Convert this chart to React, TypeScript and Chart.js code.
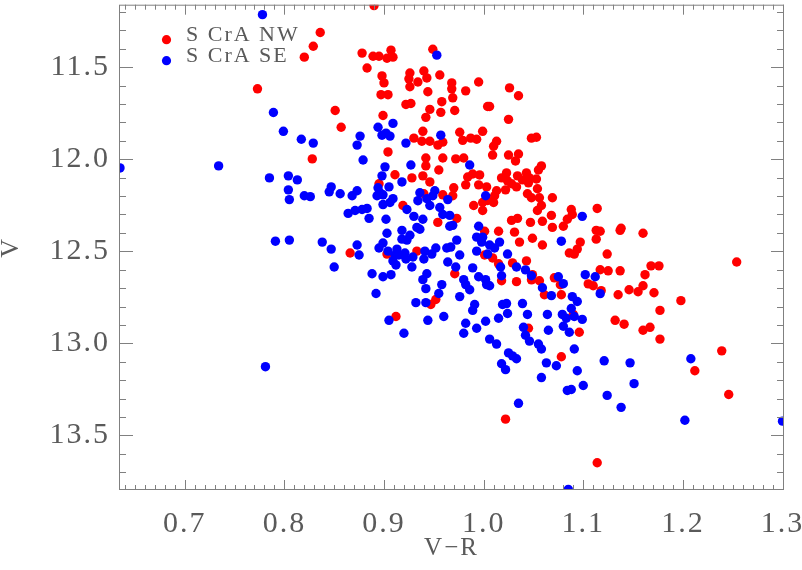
import React, { useEffect, useRef } from 'react';
import { Chart, registerables } from 'chart.js';

Chart.register(...registerables);

// Axis extents and ticks
const xRange = [0.634, 1.3015];
const yRange = [11.16, 13.797];
const xTickValues = [0.7, 0.8, 0.9, 1.0, 1.1, 1.2, 1.3];
const yTickValues = [11.5, 12.0, 12.5, 13.0, 13.5];
const xTitle = 'V\u2212R';
const yTitle = 'V';

const seriesLabels = ['S CrA NW', 'S CrA SE'];
const seriesColors = ['#ff0000', '#0000ff'];

// S CrA NW (red): V-R and V
const nwVR = [
  0.890, 0.836, 0.829, 0.820, 0.773, 0.878, 0.889, 0.895, 0.903, 0.907,
  0.909, 0.883, 0.898, 0.900, 0.897, 0.904, 0.851, 0.857, 0.899, 0.904,
  0.828, 0.911, 0.895, 0.866, 0.903, 0.949, 0.926, 0.925, 0.934, 0.940,
  0.943, 0.956, 0.968, 0.968, 0.995, 0.982, 0.926, 0.944, 0.969, 0.922,
  0.927, 0.958, 0.946, 0.957, 0.971, 1.004, 0.942, 0.939, 0.976, 0.979,
  0.999, 0.930, 0.938, 0.946, 0.954, 0.959, 0.987, 0.993, 0.942, 0.942,
  0.959, 0.972, 0.980, 0.955, 0.928, 0.939, 0.946, 0.984, 0.989, 0.996,
  0.982, 0.995, 1.003, 0.970, 0.969, 0.959, 0.990, 0.999, 0.999, 1.004,
  0.919, 0.954, 0.940, 1.026, 1.035, 1.006, 1.025, 1.048, 1.053, 1.013,
  1.010, 1.009, 1.025, 1.035, 1.032, 1.058, 1.055, 1.023, 1.018, 1.024,
  1.022, 1.028, 1.033, 1.034, 1.043, 1.039, 1.046, 1.045, 1.053, 1.013,
  1.011, 1.010, 1.044, 1.054, 1.048, 1.056, 1.058, 1.054, 1.069, 1.088,
  1.089, 1.114, 1.068, 1.059, 1.028, 1.034, 1.047, 1.084, 1.080, 1.069,
  1.015, 1.031, 1.049, 1.036, 1.059, 1.097, 1.094, 1.091, 1.086, 1.113,
  1.117, 1.113, 1.137, 1.138, 1.160, 1.124, 1.001, 0.973, 1.117, 1.125,
  1.137, 1.162, 1.168, 1.176, 1.254, 0.933, 0.971, 1.001, 1.009, 1.015,
  1.029, 1.043, 1.049, 1.056, 1.071, 1.033, 1.018, 1.048, 0.952, 0.947,
  0.912, 1.045, 1.061, 1.078, 1.077, 1.090, 1.096, 1.078, 1.105, 1.110,
  1.118, 1.022, 1.114, 1.135, 1.146, 1.155, 1.160, 1.171, 1.198, 1.177,
  1.132, 1.141, 1.160, 1.167, 1.177, 1.239, 1.212, 1.246,
];
const nwV = [
  11.165, 11.311, 11.386, 11.445, 11.617, 11.423, 11.440, 11.440, 11.451, 11.407,
  11.445, 11.504, 11.547, 11.585, 11.649, 11.649, 11.735, 11.826, 11.762, 11.960,
  11.998, 12.084, 12.133, 12.509, 12.515, 11.402, 11.531, 11.563, 11.580, 11.520,
  11.558, 11.542, 11.585, 11.617, 11.580, 11.628, 11.606, 11.633, 11.666, 11.702,
  11.697, 11.687, 11.729, 11.745, 11.735, 11.713, 11.772, 11.848, 11.853, 11.897,
  11.848, 11.885, 11.902, 11.902, 11.923, 11.907, 11.885, 11.891, 11.993, 12.036,
  11.993, 11.998, 11.993, 12.058, 12.101, 12.090, 12.123, 12.096, 12.080, 12.085,
  12.139, 12.139, 12.150, 12.155, 12.198, 12.193, 12.251, 12.235, 12.278, 12.224,
  12.251, 12.343, 12.187, 11.612, 11.655, 11.713, 11.783, 11.885, 11.880, 11.902,
  11.929, 11.977, 11.977, 11.971, 12.009, 12.036, 12.058, 12.074, 12.101, 12.117,
  12.166, 12.133, 12.150, 12.090, 12.074, 12.112, 12.101, 12.128, 12.107, 12.171,
  12.198, 12.235, 12.187, 12.160, 12.209, 12.209, 12.251, 12.278, 12.209, 12.273,
  12.300, 12.267, 12.305, 12.337, 12.332, 12.321, 12.343, 12.326, 12.364, 12.370,
  12.391, 12.396, 12.429, 12.450, 12.466, 12.450, 12.488, 12.515, 12.509, 12.386,
  12.391, 12.434, 12.386, 12.375, 12.402, 12.515, 12.391, 12.321, 12.600, 12.606,
  12.606, 12.627, 12.579, 12.579, 12.558, 12.499, 12.622, 12.520, 12.536, 12.568,
  12.563, 12.552, 12.627, 12.660, 12.644, 12.665, 12.660, 12.655, 12.762, 12.789,
  12.854, 12.918, 12.736, 12.736, 12.682, 12.843, 12.940, 13.073, 12.677, 12.687,
  12.714, 13.412, 13.649, 12.736, 12.709, 12.720, 12.687, 12.725, 12.768, 12.821,
  12.875, 12.896, 12.929, 12.913, 12.977, 13.041, 13.149, 13.278,
];

// S CrA SE (blue): V-R and V
const seVR = [
  0.778, 0.789, 0.799, 0.817, 0.829, 0.876, 0.894, 0.898, 0.902, 0.906,
  0.909, 0.873, 0.879, 0.635, 0.734, 0.901, 0.785, 0.804, 0.813, 0.804,
  0.805, 0.820, 0.826, 0.847, 0.845, 0.856, 0.873, 0.868, 0.894, 0.896,
  0.905, 0.893, 0.899, 0.898, 0.899, 0.906, 0.909, 0.864, 0.871, 0.878,
  0.883, 0.885, 0.902, 0.903, 0.899, 0.895, 0.904, 0.791, 0.805, 0.838,
  0.847, 0.873, 0.875, 0.850, 0.888, 0.899, 0.907, 0.892, 0.905, 0.781,
  0.953, 0.922, 0.957, 0.927, 0.986, 0.918, 0.936, 0.934, 0.943, 0.951,
  0.949, 0.946, 0.964, 1.002, 0.923, 0.930, 0.939, 0.956, 0.959, 0.966,
  0.933, 0.936, 0.966, 0.969, 0.995, 1.099, 0.918, 0.926, 0.923, 0.918,
  0.913, 0.911, 0.915, 0.909, 0.912, 0.921, 0.922, 0.928, 0.929, 0.941,
  0.940, 0.948, 0.952, 0.963, 0.967, 0.973, 0.976, 0.964, 0.972, 0.943,
  0.939, 0.942, 0.958, 0.955, 0.932, 0.942, 0.980, 0.982, 0.989, 0.986,
  0.976, 0.991, 0.989, 0.993, 0.993, 0.999, 0.998, 0.995, 1.002, 1.003,
  0.920, 0.944, 0.960, 0.982, 0.980, 0.993, 1.002, 1.006, 1.013, 1.006,
  1.011, 1.016, 1.004, 1.024, 1.078, 1.017, 1.018, 1.033, 1.042, 1.048,
  1.075, 1.102, 1.112, 1.006, 1.059, 1.068, 1.080, 1.117, 1.089, 1.094,
  1.088, 1.079, 1.083, 1.091, 1.099, 1.080, 1.086, 1.064, 1.065, 1.019,
  1.023, 1.024, 1.039, 1.044, 1.015, 1.040, 1.042, 1.046, 1.055, 1.058,
  1.025, 1.029, 1.033, 1.018, 1.022, 1.063, 1.073, 1.058, 1.091, 1.094,
  1.084, 1.088, 1.100, 1.035, 1.121, 1.124, 1.138, 1.147, 1.151, 1.202,
  1.208, 1.300, 1.085,
];
const seV = [
  11.214, 11.746, 11.848, 11.891, 11.912, 11.874, 11.826, 11.869, 11.858, 11.874,
  11.805, 11.923, 12.004, 12.047, 12.036, 12.041, 12.101, 12.090, 12.112, 12.166,
  12.219, 12.198, 12.203, 12.150, 12.177, 12.187, 12.171, 12.198, 12.155, 12.182,
  12.150, 12.198, 12.193, 12.090, 12.246, 12.235, 12.214, 12.294, 12.278, 12.273,
  12.267, 12.321, 12.326, 12.402, 12.455, 12.482, 12.499, 12.445, 12.439, 12.450,
  12.488, 12.466, 12.520, 12.585, 12.622, 12.638, 12.627, 12.729, 12.875, 13.127,
  11.434, 11.912, 11.869, 12.031, 12.031, 12.123, 12.182, 12.225, 12.214, 12.171,
  12.198, 12.251, 12.219, 12.198, 12.273, 12.310, 12.326, 12.262, 12.300, 12.305,
  12.370, 12.380, 12.364, 12.359, 12.364, 12.310, 12.386, 12.413, 12.439, 12.434,
  12.488, 12.520, 12.520, 12.552, 12.574, 12.509, 12.542, 12.585, 12.531, 12.499,
  12.542, 12.515, 12.482, 12.482, 12.477, 12.439, 12.520, 12.558, 12.585, 12.622,
  12.654, 12.703, 12.681, 12.729, 12.779, 12.779, 12.654, 12.681, 12.590, 12.709,
  12.746, 12.789, 12.821, 12.499, 12.423, 12.423, 12.450, 12.638, 12.654, 12.681,
  12.945, 12.875, 12.854, 12.891, 12.945, 12.918, 12.880, 12.977, 13.004, 12.466,
  12.482, 12.450, 12.515, 12.515, 12.445, 12.585, 12.633, 12.585, 12.601, 12.633,
  12.638, 12.627, 12.638, 12.687, 12.698, 12.741, 12.676, 12.730, 12.746, 12.773,
  12.811, 12.843, 12.864, 12.854, 12.870, 12.907, 12.940, 12.843, 12.929, 12.789,
  12.784, 12.838, 12.784, 12.843, 12.864, 12.913, 12.956, 12.988, 13.004, 13.031,
  13.052, 13.068, 13.084, 13.111, 13.143, 13.106, 13.122, 13.186, 13.031, 13.149,
  13.256, 13.251, 13.229, 13.326, 13.095, 13.283, 13.348, 13.106, 13.219, 13.418,
  13.084, 13.423, 13.794,
];

const FONT = '"Liberation Serif", "DejaVu Serif", serif';
const TEXT_COLOR = '#5a5a5a';
const AXIS_COLOR = '#808080';

const toPoints = (xs: number[], ys: number[]) => xs.map((x, i) => ({ x, y: ys[i] }));

const framePlugin = {
  id: 'frame',
  beforeDraw(chart: any) {
    chart.ctx.letterSpacing = '2px';
  },
  afterDraw(chart: any) {
    const { ctx, chartArea: a, scales } = chart;
    const xs = scales.x;
    const ys = scales.y;
    ctx.save();
    ctx.letterSpacing = '0px';
    ctx.strokeStyle = AXIS_COLOR;
    ctx.lineWidth = 1;
    const line = (x1: number, y1: number, x2: number, y2: number) => {
      ctx.beginPath();
      ctx.moveTo(x1, y1);
      ctx.lineTo(x2, y2);
      ctx.stroke();
    };
    ctx.strokeRect(a.left + 0.5, a.top + 0.5, a.right - a.left - 1, a.bottom - a.top - 1);
    // x ticks (minor every 0.01, major every 0.1)
    for (let i = Math.ceil(xRange[0] * 100); i <= Math.floor(xRange[1] * 100); i++) {
      const px = Math.round(xs.getPixelForValue(i / 100)) + 0.5;
      const len = i % 10 === 0 ? 10 : 5;
      line(px, a.bottom, px, a.bottom - len);
      line(px, a.top, px, a.top + len);
    }
    // y ticks (minor every 0.1, major every 0.5)
    for (let i = Math.ceil(yRange[0] * 10); i <= Math.floor(yRange[1] * 10); i++) {
      const py = Math.round(ys.getPixelForValue(i / 10)) + 0.5;
      const major = i % 5 === 0;
      line(a.left, py, a.left + (major ? 14 : 7), py);
      line(a.right, py, a.right - (major ? 13 : 7), py);
    }
    // legend
    ctx.font = `22px ${FONT}`;
    ctx.letterSpacing = '2px';
    ctx.textBaseline = 'alphabetic';
    ctx.textAlign = 'left';
    chart.data.datasets.forEach((ds: any) => {
      const i = seriesLabels.indexOf(ds.label);
      const cy = a.top + 35 + i * 21;
      ctx.fillStyle = ds.backgroundColor;
      ctx.beginPath();
      ctx.arc(a.left + 47.5, cy, 4.6, 0, Math.PI * 2);
      ctx.fill();
      ctx.fillStyle = TEXT_COLOR;
      ctx.fillText(ds.label, a.left + 67, cy + 1);
    });
    ctx.restore();
  },
};

export default function App() {
  const ref = useRef<HTMLCanvasElement>(null);
  useEffect(() => {
    if (!ref.current) return;
    const chart = new Chart(ref.current, {
      type: 'scatter',
      data: {
        datasets: [
          {
            label: seriesLabels[0],
            data: toPoints(nwVR, nwV),
            backgroundColor: seriesColors[0],
            borderWidth: 0,
            pointRadius: 4.7,
            order: 1,
            clip: 0,
          },
          {
            label: seriesLabels[1],
            data: toPoints(seVR, seV),
            backgroundColor: seriesColors[1],
            borderWidth: 0,
            pointRadius: 4.7,
            order: 0,
            clip: 0,
          },
        ],
      },
      options: {
        responsive: false,
        animation: false,
        events: [],
        layout: { padding: { left: 0, right: 18, top: 0, bottom: 0 } },
        plugins: { legend: { display: false }, tooltip: { enabled: false } },
        scales: {
          x: {
            type: 'linear',
            position: 'bottom',
            min: xRange[0],
            max: xRange[1],
            afterBuildTicks: (s: any) => {
              s.ticks = xTickValues.map((v) => ({ value: v }));
            },
            afterFit: (s: any) => {
              s.height = 80;
              s.paddingLeft = 0;
              s.paddingRight = 0;
            },
            grid: { display: false, drawTicks: false },
            border: { display: false },
            ticks: {
              autoSkip: false,
              maxRotation: 0,
              padding: 16,
              color: TEXT_COLOR,
              font: { family: FONT, size: 30 },
              callback: (v: any) => Number(v).toFixed(1),
            },
            title: {
              display: true,
              text: xTitle,
              color: TEXT_COLOR,
              font: { family: FONT, size: 25 },
              padding: { top: 0, bottom: 7 },
            },
          },
          y: {
            type: 'linear',
            reverse: true,
            min: yRange[0],
            max: yRange[1],
            afterBuildTicks: (s: any) => {
              s.ticks = yTickValues.map((v) => ({ value: v }));
            },
            afterFit: (s: any) => {
              s.width = 119;
              s.paddingTop = 0;
              s.paddingBottom = 0;
            },
            grid: { display: false, drawTicks: false },
            border: { display: false },
            ticks: {
              autoSkip: false,
              padding: 9,
              color: TEXT_COLOR,
              font: { family: FONT, size: 30 },
              callback: (v: any) => Number(v).toFixed(1),
            },
            title: {
              display: true,
              text: yTitle,
              color: TEXT_COLOR,
              font: { family: FONT, size: 26, lineHeight: 0.85 },
              padding: 0,
            },
          },
        },
      },
      plugins: [framePlugin],
    } as any);
    return () => chart.destroy();
  }, []);
  return (
    <div style={{ position: 'fixed', left: 0, top: 0, width: 802, height: 570, background: '#fff' }}>
      <canvas ref={ref} width={802} height={570} style={{ display: 'block', width: 802, height: 570 }} />
    </div>
  );
}
